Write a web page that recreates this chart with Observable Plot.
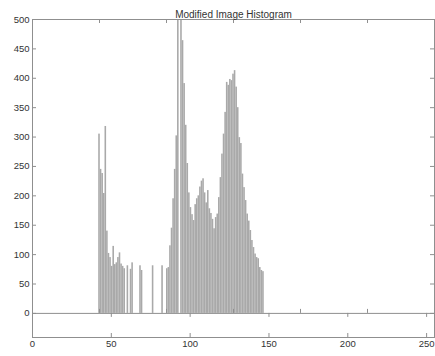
<!DOCTYPE html>
<html><head><meta charset="utf-8">
<script src="https://cdn.jsdelivr.net/npm/d3@7"></script>
<script src="https://cdn.jsdelivr.net/npm/@observablehq/plot@0.6"></script>
<style>
body{margin:0;background:#fff}
</style></head><body><div id="chart"></div>
<script>
const title = "Modified Image Histogram";
const bins = [42,43,44,45,46,47,48,49,50,51,52,53,54,55,56,57,58,60,62,63,68,69,76,82,85,86,
  87,88,89,90,91,92,94,95,96,97,98,99,100,101,102,103,104,105,106,107,108,109,110,111,112,113,114,115,116,
  117,118,119,120,121,122,123,124,125,126,127,128,129,130,131,132,133,134,135,136,137,138,139,140,141,142,143,144,145,146];
const counts = [305,245,238,204,318,140,102,95,80,114,83,86,95,103,84,80,76,81,75,86,81,73,81,81,76,78,
  115,145,195,245,302,560,560,464,391,320,255,205,180,168,158,185,195,200,215,225,229,205,188,209,178,170,160,144,163,
  169,197,231,271,305,342,393,388,398,396,407,413,385,350,299,289,237,214,192,169,157,141,124,112,101,95,93,78,73,71];
const xTicks = [0,50,100,150,200,250];
const yTicks = [0,50,100,150,200,250,300,350,400,450,500];
const xTicks2 = [42.5,85,127.5,170,212.5];
const xDomain = [0,255];
const yDomain = [-41,500];

const width = 435, height = 356, mL = 32, mR = 1, mT = 19, mB = 19;
const innerW = width - mL - mR, innerH = height - mT - mB;
const tick = 4;
const tickY = tick * (yDomain[1] - yDomain[0]) / innerH;
const data = bins.map((b, i) => ({bin: b, count: counts[i]}));
const gray = "#8f8f8f";

const chart = Plot.plot({
  width, height, marginLeft: mL, marginRight: mR, marginTop: mT, marginBottom: mB,
  style: {fontFamily: "'Liberation Sans', Arial, sans-serif", color: "#333", background: "#fff"},
  x: {domain: xDomain},
  y: {domain: yDomain},
  marks: [
    Plot.rectY(data, {x1: "bin", x2: d => d.bin + 1, y: "count", fill: "#a9a9a9", clip: true}),
    Plot.ruleY([0], {stroke: gray}),
    Plot.frame({stroke: gray}),
    Plot.tickY(yTicks, {y: d => d, stroke: gray, insetRight: innerW - tick}),
    Plot.tickY(yTicks, {y: d => d, stroke: gray, insetLeft: innerW - tick}),
    Plot.tickX(xTicks, {x: d => d, stroke: gray, insetTop: innerH - tick}),
    Plot.ruleX(xTicks, {x: d => d, y1: 0, y2: -tickY, stroke: gray}),
    Plot.ruleX(xTicks2, {x: d => d, y1: 0, y2: tickY, stroke: gray}),
    Plot.tickX(xTicks2, {x: d => d, stroke: gray, insetBottom: innerH - tick}),
    Plot.axisX({ticks: xTicks, tickSize: 0, tickPadding: 3, fontSize: 9.5, tickFormat: d => d, label: null}),
    Plot.axisY({ticks: yTicks, tickSize: 0, tickPadding: 3, fontSize: 9.5, tickFormat: d => d, label: null}),
    Plot.text([title], {frameAnchor: "top", dy: -9, fontSize: 10, text: d => d})
  ]
});
document.getElementById("chart").appendChild(chart);
</script>
</body></html>
